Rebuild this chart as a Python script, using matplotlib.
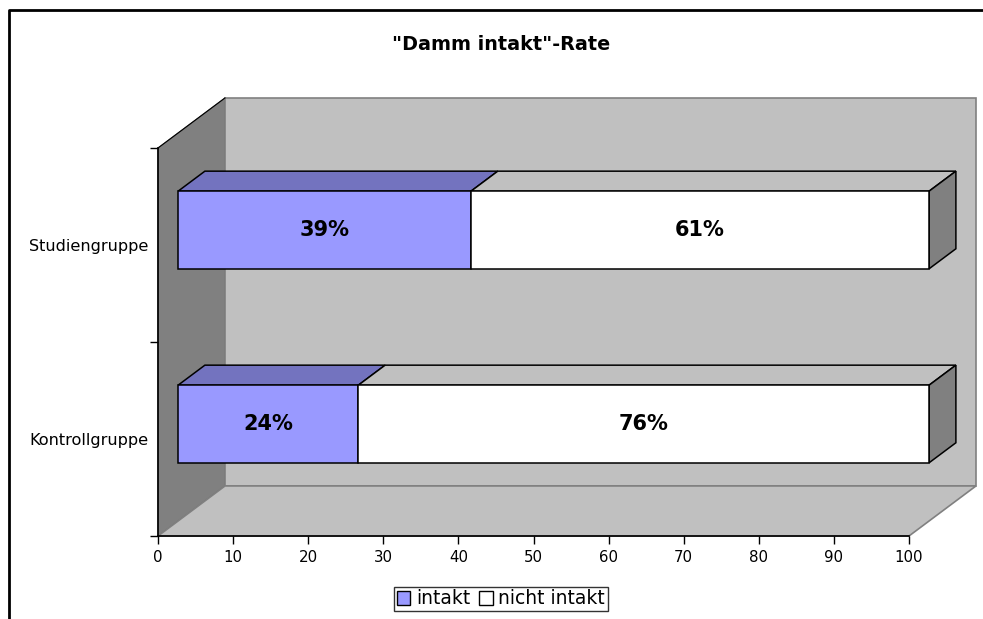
import matplotlib.pyplot as plt
from matplotlib.patches import Polygon, Patch
from matplotlib.lines import Line2D

# Damm intakt rate per group (percent)
groups = ["Kontrollgruppe", "Studiengruppe"]
intakt = [24, 39]
nicht_intakt = [76, 61]
labels = ["intakt", "nicht intakt"]

blue = "#9999FF"
blue_top = "#7373BF"
white = "#FFFFFF"
white_top = "#C0C0C0"
side = "#808080"
wall = "#C0C0C0"
wall_side = "#808080"

# depth of the 3D box in data units (x in percent, y in category units)
DX = 8.92
DY = 0.258
d0, d1 = 0.3, 0.7
h = 0.4

fig = plt.figure(figsize=(9.83, 6.19), dpi=100)
ax = fig.add_axes([158 / 983, 83 / 619, 751 / 983, 388 / 619])
ax.set_xlim(0, 100)
ax.set_ylim(0, 2)
ax.patch.set_visible(False)


def poly(pts, fc, ec, lw=1.0, z=1):
    ax.add_patch(Polygon(pts, closed=True, facecolor=fc, edgecolor=ec,
                         linewidth=lw, clip_on=False, zorder=z))


# walls and floor
poly([(0, 0), (0, 2), (DX, 2 + DY), (DX, DY)], wall_side, "#606060", 0.8)
poly([(DX, DY), (100 + DX, DY), (100 + DX, 2 + DY), (DX, 2 + DY)], wall, wall_side, 1.2)
poly([(0, 0), (100, 0), (100 + DX, DY), (DX, DY)], wall, wall_side, 1.2)
ax.plot([0, DX], [2, 2 + DY], color="black", lw=0.8, clip_on=False, zorder=1.5)


def box(a, b, c, fc, ftop, last):
    ox0, oy0 = d0 * DX, d0 * DY
    ox1, oy1 = d1 * DX, d1 * DY
    lo, hi = c - h / 2, c + h / 2
    poly([(a + ox0, hi + oy0), (b + ox0, hi + oy0), (b + ox1, hi + oy1), (a + ox1, hi + oy1)],
         ftop, "black", 1.1, 3)
    if last:
        poly([(b + ox0, lo + oy0), (b + ox0, hi + oy0), (b + ox1, hi + oy1), (b + ox1, lo + oy1)],
             side, "black", 1.1, 3)
    poly([(a + ox0, lo + oy0), (b + ox0, lo + oy0), (b + ox0, hi + oy0), (a + ox0, hi + oy0)],
         fc, "black", 1.1, 3.5)


for i, g in enumerate(groups):
    c = i + 0.5
    a = intakt[i]
    box(0, a, c, blue, blue_top, False)
    box(a, a + nicht_intakt[i], c, white, white_top, True)
    ax.text(a / 2 + d0 * DX, c + d0 * DY, f"{a}%", ha="center", va="center",
            fontsize=15, fontweight="bold", zorder=5)
    ax.text(a + nicht_intakt[i] / 2 + d0 * DX, c + d0 * DY, f"{nicht_intakt[i]}%",
            ha="center", va="center", fontsize=15, fontweight="bold", zorder=5)

# axes
for s in ["top", "right"]:
    ax.spines[s].set_visible(False)
for s in ["left", "bottom"]:
    ax.spines[s].set_color("black")
    ax.spines[s].set_linewidth(1.2)
    ax.spines[s].set_zorder(2)
ax.set_xticks(range(0, 101, 10))
ax.tick_params(axis="x", direction="out", length=6, width=1, labelsize=10.8, pad=4)
ax.set_yticks([0, 1, 2])
ax.set_yticklabels([])
ax.tick_params(axis="y", which="major", direction="out", length=6, width=1)
ax.set_yticks([0.5, 1.5], minor=True)
ax.set_yticklabels(groups, minor=True)
ax.tick_params(axis="y", which="minor", length=0, pad=7, labelsize=11.6)

fig.text(501 / 983, 1 - 45 / 619, '"Damm intakt"-Rate', ha="center", va="center",
         fontsize=13.8, fontweight="bold")

handles = [Patch(facecolor=blue, edgecolor="black"), Patch(facecolor=white, edgecolor="black")]
fig.legend(handles, labels, loc="center", bbox_to_anchor=(501 / 983, 1 - 599 / 619),
           ncol=2, fontsize=13.5, frameon=True, fancybox=False, edgecolor="black",
           handlelength=0.7, handleheight=0.7, handletextpad=0.3, columnspacing=0.5,
           borderpad=0.15, borderaxespad=0)

# chart area border (top and left edges)
fig.add_artist(Line2D([9 / 983, 9 / 983, 1], [0, 1 - 10 / 619, 1 - 10 / 619],
                      transform=fig.transFigure, color="black", lw=2))

fig.savefig("out.png", dpi=100)
